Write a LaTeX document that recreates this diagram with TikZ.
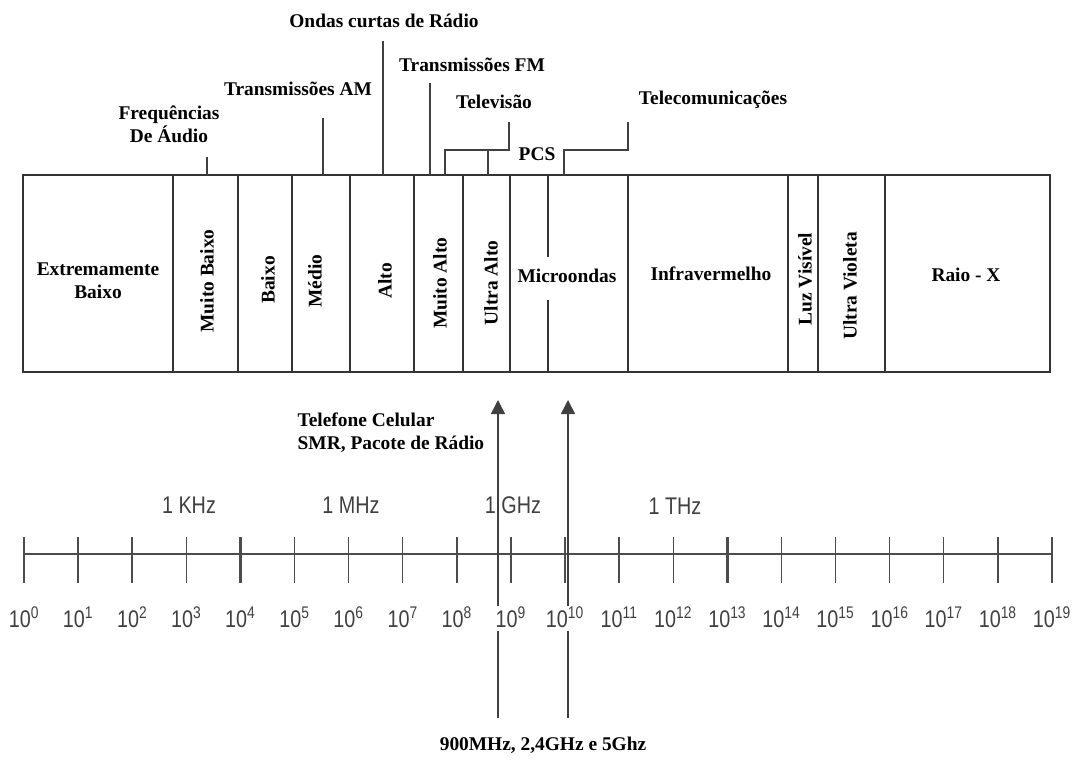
\documentclass[tikz,border=0pt]{standalone}
\usepackage{fontspec}
\setmainfont{Liberation Serif}
\setsansfont{Liberation Sans}
\usetikzlibrary{arrows.meta,positioning}

\newcommand{\tallsans}[1]{\scalebox{0.97}[1.18]{#1}}

\begin{document}
\begin{tikzpicture}[
        x=0.025cm, y=-0.025cm,
        band/.style={draw=black!80, line width=1.1pt},
        lbl/.style={font=\fontsize{13.8}{16.4}\selectfont\bfseries, inner sep=1pt, align=center},
        vlbl/.style={lbl, rotate=90},
        lead/.style={draw=black!75, line width=1.1pt},
        freq/.style={font=\sffamily\fontsize{14.5}{17}\selectfont, text=black!75, inner sep=1pt},
        axtick/.style={draw=black!70, line width=1pt},
        arrow/.style={-{Triangle[width=10pt,length=10pt]}, draw=black!75, line width=1.1pt}
    ]
        \useasboundingbox (0,0) rectangle (1079,761);

        % Bands
        \draw[band] (23,175) rectangle (1050,372);
        \foreach \x in {173,238,292,350,414,463,510,628,788,818,885}
            \draw[band] (\x,175) -- (\x,372);
        \draw[band, line width=1.8pt] (788,175) -- (788,372);
        \draw[band] (548,175) -- (548,257);
        \draw[band] (548,300) -- (548,372);

        % Band labels
        \node[lbl] (eb) at (98,281) {Extremamente\\Baixo};
        \node[vlbl] (mb) at (207,281) {Muito Baixo};
        \node[vlbl] (bx) at (268,280) {Baixo};
        \node[vlbl] (md) at (315,281) {Médio};
        \node[vlbl] (al) at (385,281) {Alto};
        \node[vlbl] (ma) at (440,283) {Muito Alto};
        \node[vlbl] (ua) at (491,283) {Ultra Alto};
        \node[lbl] (mw) at (567,276) {Microondas};
        \node[lbl] (ir) at (711,274) {Infravermelho};
        \node[vlbl] (lv) at (805,279) {Luz Visível};
        \node[vlbl] (uv) at (850,286) {Ultra Violeta};
        \node[lbl] (rx) at (966,275) {Raio - X};

        % Services above the bands
        \node[lbl] (audio) at (169,124) {Frequências\\De Áudio};
        \node[lbl] (am) at (298,89) {Transmissões AM};
        \node[lbl] (oc) at (384,21) {Ondas curtas de Rádio};
        \node[lbl] (fm) at (472,65) {Transmissões FM};
        \node[lbl] (tv) at (494,102) {Televisão};
        \node[lbl] (pcs) at (537,154) {PCS};
        \node[lbl] (tel) at (713,100) {Telecomunicações};

        \draw[lead] (207,157) -- (207,175);
        \draw[lead] (323,118) -- (323,175);
        \draw[lead] (383,41) -- (383,175);
        \draw[lead] (430,83) -- (430,175);
        \draw[lead] (509,122) -- (509,150) -- (445,150) -- (445,175);
        \draw[lead] (488,150) -- (488,175);
        \draw[lead] (628,122) -- (628,150) -- (564,150) -- (564,175);

        % Frequency axis
        \draw[axtick] (24,554) -- (1052,554);
        \foreach \i in {0,...,19} {
            \draw[axtick] ({24+54.1*\i},537) -- ({24+54.1*\i},583);
            \node[freq] (e\i) at ({24+54.1*\i},617) {\tallsans{10\textsuperscript{\i}}};
        }
        \foreach \i in {4,10,13}
            \draw[axtick, line width=1.8pt] ({24+54.1*\i},537) -- ({24+54.1*\i},583);

        \node[freq] (khz) at (189,505) {\tallsans{1 KHz}};
        \node[freq] (mhz) at (351,505) {\tallsans{1 MHz}};
        \node[freq] (ghz) at (513,505) {\tallsans{1 GHz}};
        \node[freq] (thz) at (675,506) {\tallsans{1 THz}};

        % Wireless bands
        \node[lbl, anchor=west, align=left] (cel) at (296,433) {Telefone Celular\\SMR, Pacote de Rádio};
        \node[lbl] (wifi) at (543,745) {900MHz, 2,4GHz e 5Ghz};

        \coordinate (a1top) at (498,400);
        \coordinate (a1bot) at (498,606);
        \coordinate (a2top) at (568,400);
        \coordinate (a2bot) at (568,606);
        \draw[arrow] (a1bot) -- (a1top);
        \draw[arrow] (a2bot) -- (a2top);
        \draw[lead] (498,631) -- (498,718);
        \draw[lead] (568,631) -- (568,718);

    \end{tikzpicture}
\end{document}
